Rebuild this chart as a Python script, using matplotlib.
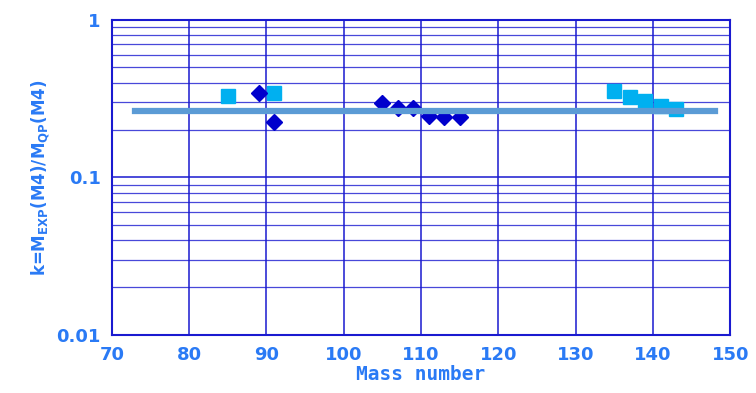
import numpy as np
import matplotlib.pyplot as plt

# light blue squares
sq_mass = [85, 91, 135, 137, 139, 141, 143]
sq_k = [0.33, 0.343, 0.352, 0.324, 0.306, 0.283, 0.271]
# dark blue diamonds
dm_mass = [89, 91, 105, 107, 109, 111, 113, 115]
dm_k = [0.343, 0.224, 0.296, 0.277, 0.275, 0.246, 0.241, 0.243]
# average line
avg_mass = [73, 148]
avg_k = [0.264, 0.264]

tick_color = '#2a7af5'
grid_color = '#1a1ad0'

fig = plt.figure(figsize=(7.56, 3.93), dpi=100)
ax = fig.add_axes([0.148, 0.148, 0.818, 0.801])

ax.set_yscale('log')
ax.set_xlim(70, 150)
ax.set_ylim(0.01, 1)

ax.plot(sq_mass, sq_k, 's', color='#00b0f0', markersize=10.5, zorder=3)
ax.plot(dm_mass, dm_k, 'D', color='#0000cc', markersize=8.5, zorder=3)
ax.plot(avg_mass, avg_k, '-', color='#5b9bd5', linewidth=4.5, zorder=4)

ax.set_xticks(np.arange(70, 151, 10))
ax.set_yticks([0.01, 0.1, 1])
ax.set_yticklabels(['0.01', '0.1', '1'])
ax.minorticks_on()
ax.xaxis.set_minor_locator(plt.NullLocator())
ax.grid(True, which='major', color=grid_color, linewidth=1.1)
ax.grid(True, which='minor', axis='y', color=grid_color, linewidth=0.9, alpha=0.8)
ax.set_axisbelow(True)
ax.tick_params(which='both', length=0, labelsize=13, labelcolor=tick_color, pad=8)
for lab in ax.get_xticklabels() + ax.get_yticklabels():
    lab.set_fontweight('bold')
for s in ax.spines.values():
    s.set_color(grid_color)
    s.set_linewidth(1.5)

ax.set_xlabel('Mass number', fontsize=14, color=tick_color, fontweight='bold',
              family='DejaVu Sans Mono', labelpad=1)
ax.set_ylabel(r'k=M$_{\mathbf{EXP}}$(M4)/M$_{\mathbf{QP}}$(M4)', fontsize=12,
              color=tick_color, fontweight='bold', labelpad=4)

fig.savefig('out.png', dpi=100)
